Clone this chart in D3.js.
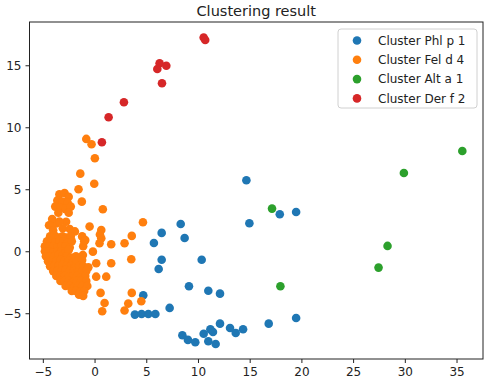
<!DOCTYPE html>
<html><head><meta charset="utf-8">
<script src="https://cdn.jsdelivr.net/npm/d3@7"></script>
<style>body{margin:0;background:#fff}svg{display:block}text{font-family:"DejaVu Sans",sans-serif}</style>
</head><body><div id="chart"></div>
<script>
const clusterNames = ["Cluster Phl p 1", "Cluster Fel d 4", "Cluster Alt a 1", "Cluster Der f 2"];
const clusterColors = ["#1f77b4", "#ff7f0e", "#2ca02c", "#d62728"];
const xTicks = [-5, 0, 5, 10, 15, 20, 25, 30, 35];
const yTicks = [-5, 0, 5, 10, 15];

const phlP1 = [
  [14.68,5.73],[14.97,2.26],[17.91,2.98],[19.49,3.17],[8.33,2.20],[6.49,1.48],[8.71,1.07],
  [5.74,0.67],[6.49,-0.68],[10.36,-0.68],[6.20,-1.43],[9.13,-2.82],[11.00,-3.18],[12.13,-3.42],
  [4.71,-3.55],[7.26,-4.57],[3.90,-5.11],[4.55,-5.06],[5.20,-5.06],[5.88,-5.06],[19.49,-5.38],
  [16.84,-5.84],[12.13,-5.84],[13.10,-6.19],[14.36,-6.29],[13.65,-6.59],[11.45,-6.51],[10.55,-6.65],
  [8.49,-6.77],[9.03,-7.15],[9.74,-7.34],[11.00,-7.26],[11.71,-7.48],[11.20,-6.30]
];
const felD4 = [
  [-0.80,9.06],[-0.29,8.63],[0.03,7.50],[-1.38,6.26],[-0.03,5.45],[-1.55,5.00],[-1.23,4.00],[0.80,3.39],[4.68,2.34],
  [-3.72,2.25],[-2.75,2.38],[-3.07,1.86],[-0.48,1.99],[0.65,1.72],[0.65,1.05],[0.52,1.35],
  [3.60,1.24],[2.90,0.64],[1.61,0.56],[0.48,0.64],[1.61,-0.97],[3.55,-0.64],[-1.13,-0.30],[-0.16,-0.03],
  [0.16,-0.97],[1.13,-2.05],[0.16,-2.05],[0.58,-3.36],[0.97,-4.17],[0.74,-4.84],[3.60,-3.36],[3.26,-4.22],
  [2.90,-4.78],[4.52,-4.03],
  [-3.4,4.6],[-2.9,4.7],[-2.5,4.4],[-3.6,4.1],[-3.1,4.0],[-2.6,3.9],[-3.8,3.6],[-3.3,3.5],[-2.8,3.4],
  [-2.3,3.6],[-3.5,3.1],[-2.5,3.1],[-4.1,2.6],[-4.4,2.1],[-3.4,2.4],[-2.4,1.8],[-4.0,1.7],[-1.9,1.6],
  [-1.2,1.2],[-1.0,0.8],[-1.1,0.4],
  [-4.3,1.2],[-3.9,1.3],[-3.5,1.1],[-3.1,1.2],[-2.7,1.1],[-2.3,1.2],
  [-4.6,0.8],[-4.2,0.8],[-3.8,0.7],[-3.4,0.8],[-3.0,0.8],[-2.6,0.7],[-2.2,0.8],[-0.9,0.9],
  [-4.8,0.4],[-4.4,0.4],[-4.0,0.4],[-3.6,0.3],[-3.2,0.4],[-2.8,0.4],[-2.4,0.3],
  [-4.8,0.0],[-4.4,0.0],[-4.0,-0.1],[-3.6,0.0],[-3.2,0.0],[-2.8,-0.1],[-2.5,0.1],
  [-4.7,-0.4],[-4.3,-0.4],[-3.9,-0.4],[-3.5,-0.3],[-3.1,-0.4],[-2.7,-0.4],[-2.3,-0.5],[-1.8,-0.4],
  [-4.5,-0.8],[-4.1,-0.8],[-3.7,-0.8],[-3.3,-0.7],[-2.9,-0.8],[-2.5,-0.8],[-2.1,-0.9],[-1.7,-0.8],[-1.2,-0.7],
  [-4.3,-1.2],[-3.9,-1.2],[-3.5,-1.2],[-3.1,-1.1],[-2.7,-1.2],[-2.3,-1.2],[-1.9,-1.3],[-1.5,-1.2],[-1.1,-1.2],[-0.6,-1.3],
  [-4.0,-1.6],[-3.6,-1.6],[-3.2,-1.6],[-2.8,-1.5],[-2.4,-1.6],[-2.0,-1.6],[-1.6,-1.7],[-1.2,-1.6],[-0.8,-1.6],
  [-3.7,-2.0],[-3.3,-2.0],[-2.9,-2.0],[-2.5,-2.1],[-2.1,-2.0],[-1.7,-2.0],[-1.3,-2.1],[-0.9,-2.0],
  [-3.3,-2.4],[-2.9,-2.4],[-2.5,-2.4],[-2.1,-2.5],[-1.7,-2.4],[-1.3,-2.4],[-0.8,-2.4],
  [-2.8,-2.8],[-2.4,-2.8],[-2.0,-2.9],[-1.6,-2.8],[-1.2,-2.8],[-0.7,-2.8],
  [-2.2,-3.2],[-1.8,-3.2],[-1.4,-3.3],[-1.0,-3.2],[-1.5,-3.5],[-1.1,-3.6]
];
const altA1 = [[35.56,8.09],[29.91,6.31],[17.16,3.44],[28.33,0.43],[27.46,-1.32],[17.97,-2.82]];
const derF2 = [[10.55,17.24],[10.70,17.04],[6.29,15.16],[6.07,14.70],[6.94,14.96],[6.52,13.55],[2.84,12.02],[1.36,10.81],[0.71,8.79]];
const seriesData = [phlP1, felD4, altA1, derF2];

const W = 486, H = 383;
const m = {left: 29.5, right: 483, top: 22, bottom: 359};
const svg = d3.select("#chart").append("svg").attr("width", W).attr("height", H);

const x = d3.scaleLinear().domain([-6.29, 37.56]).range([m.left, m.right]);
const y = d3.scaleLinear().domain([-8.69, 18.49]).range([m.bottom, m.top]);

seriesData.forEach((pts, i) => {
  svg.append("g").selectAll("circle").data(pts).join("circle")
    .attr("cx", d => x(d[0])).attr("cy", d => y(d[1])).attr("r", 4.3)
    .attr("fill", clusterColors[i]);
});

svg.append("rect").attr("x", m.left).attr("y", m.top)
  .attr("width", m.right - m.left).attr("height", m.bottom - m.top)
  .attr("fill", "none").attr("stroke", "#222").attr("stroke-width", 1);

const xa = svg.append("g").attr("transform", `translate(0,${m.bottom})`)
  .call(d3.axisBottom(x).tickValues(xTicks).tickSize(4).tickPadding(4).tickFormat(d => d < 0 ? "\u2212" + Math.abs(d) : d));
const ya = svg.append("g").attr("transform", `translate(${m.left},0)`)
  .call(d3.axisLeft(y).tickValues(yTicks).tickSize(4).tickPadding(4).tickFormat(d => d < 0 ? "\u2212" + Math.abs(d) : d));
[xa, ya].forEach(a => {
  a.select(".domain").remove();
  a.selectAll("line").attr("stroke", "#222");
  a.selectAll("text").attr("font-size", 12).attr("fill", "#222").attr("font-family", "DejaVu Sans, sans-serif");
});

svg.append("text").attr("x", (m.left + m.right) / 2).attr("y", 15.5)
  .attr("text-anchor", "middle").attr("font-size", 14.5).attr("fill", "#222").text("Clustering result");

const lg = svg.append("g");
lg.append("rect").attr("x", 338).attr("y", 29).attr("width", 139).attr("height", 79)
  .attr("rx", 3).attr("fill", "#fff").attr("fill-opacity", 0.8).attr("stroke", "#d0d0d0");
clusterNames.forEach((n, i) => {
  const yy = 40.5 + i * 19.3;
  lg.append("circle").attr("cx", 357).attr("cy", yy).attr("r", 4.3).attr("fill", clusterColors[i]);
  lg.append("text").attr("x", 378).attr("y", yy).attr("dy", "0.36em").attr("font-size", 12)
    .attr("fill", "#222").text(n);
});
</script></body></html>
